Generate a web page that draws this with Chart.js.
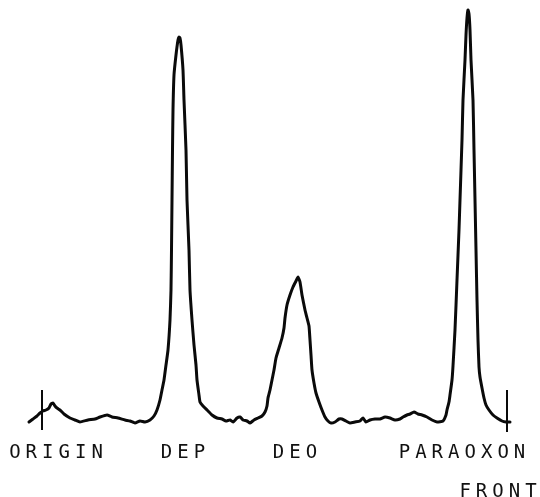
<!DOCTYPE html>
<html>
<head>
<meta charset="utf-8">
<script src="https://cdn.jsdelivr.net/npm/chart.js@4/dist/chart.umd.min.js"></script>
<style>
  html, body { margin: 0; padding: 0; background: #ffffff; }
  #wrap { width: 540px; height: 497px; position: relative; }
</style>
</head>
<body>
<div id="wrap"><canvas id="c" width="540" height="497"></canvas></div>
<script>
// Scan trace: migration distance (arbitrary units) and detector response (arbitrary units)
const distance = [
  29,33,37,40,43,46,49,51,53,55,57,60,64,70,75,80,88,95,100,107,112,118,125,130,135,140,145,150,154,157,
  160,162,164,166,168,170,171,171.5,172,172.5,173,174,176,178,179,180,181,183,184,186,187,189,190,192,194,196,197,199,200,
  203,207,212,217,222,226,230,233,237,240,243,247,250,254,258,262,265,267,268,270,272,274,276,279,282,284,285,287,290,293,296,298,
  300,302,305,307,309,310,311,312,314,316,319,322,325,328,331,335,339,342,346,350,355,360,363,366,370,375,380,385,390,395,400,
  403,407,410,414,418,422,427,432,437,443,446,447,449,450,452,453,455,457,459,460,462,463,465,466,467,468,469,470,471,473,474,
  475,476,477,478,479,480,482,484,486,489,493,497,502,506,510
];
const response = [
  75,78,81,84,86,87,89,93,94,91,89,87,83,79,77,75,77,78,80,82,80,79,77,76,74,76,75,77,81,87,
  97,107,117,132,147,177,207,247,297,347,387,422,442,457,460,459,452,427,397,347,297,247,207,177,152,132,117,102,95,
  91,87,82,79,78,76,77,75,79,80,77,76,74,77,79,81,85,91,99,107,117,127,139,149,159,169,179,192,202,210,216,220,
  215,202,187,179,171,157,142,127,114,104,95,87,80,76,74,75,78,78,76,74,75,76,79,75,77,78,78,80,79,77,78,
  80,82,83,85,83,82,80,77,75,76,82,87,95,102,117,131,167,217,267,297,357,397,437,462,479,487,483,467,437,397,347,
  297,247,197,157,130,120,109,99,92,87,82,79,76,75,75
];

// Reference marks at origin and solvent front
const originAt = 42;
const frontAt = 507;
const markLow = 67;
const markHigh = 107;

// Spot labels and where they sit along the plate (row 1 = second line)
const labelNames = ['ORIGIN', 'DEP', 'DEO', 'PARAOXON', 'FRONT'];
const labelAt = [56, 183, 295, 462, 498];
const labelRow = [0, 0, 0, 0, 1];

const trace = distance.map((d, i) => ({ x: d, y: response[i] }));

const labelPlugin = {
  id: 'spotLabels',
  afterDraw(chart) {
    const ctx = chart.ctx;
    const xs = chart.scales.x;
    ctx.save();
    ctx.fillStyle = '#111';
    ctx.font = '19px "DejaVu Sans Mono", "Liberation Mono", monospace';
    ctx.textBaseline = 'middle';
    ctx.textAlign = 'left';
    const ls = 5;
    if ('letterSpacing' in ctx) ctx.letterSpacing = ls + 'px';
    labelNames.forEach((t, i) => {
      const cx = xs.getPixelForValue(labelAt[i]);
      const w = ctx.measureText(t).width - ('letterSpacing' in ctx ? ls : 0);
      const y = labelRow[i] === 0 ? 453 : 492;
      ctx.fillText(t, cx - w / 2, y);
    });
    ctx.restore();
  }
};

new Chart(document.getElementById('c'), {
  type: 'line',
  data: {
    datasets: [
      {
        data: trace,
        borderColor: '#0a0a0a',
        borderWidth: 3,
        pointRadius: 0,
        tension: 0.15,
        fill: false,
        borderJoinStyle: 'round',
        borderCapStyle: 'round'
      },
      {
        data: [{ x: originAt, y: markLow }, { x: originAt, y: markHigh }],
        borderColor: '#0a0a0a',
        borderWidth: 2,
        pointRadius: 0,
        fill: false
      },
      {
        data: [{ x: frontAt, y: markLow - 2 }, { x: frontAt, y: markHigh }],
        borderColor: '#0a0a0a',
        borderWidth: 2,
        pointRadius: 0,
        fill: false
      }
    ]
  },
  options: {
    responsive: false,
    animation: false,
    events: [],
    layout: { padding: 0 },
    plugins: { legend: { display: false }, tooltip: { enabled: false }, title: { display: false } },
    scales: {
      x: { type: 'linear', min: 0, max: 540, display: false },
      y: { type: 'linear', min: 0, max: 497, display: false }
    }
  },
  plugins: [labelPlugin]
});
</script>
</body>
</html>
